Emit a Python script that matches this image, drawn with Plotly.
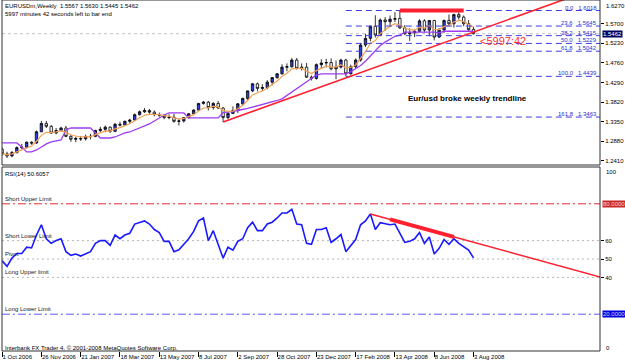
import pandas as pd
import plotly.graph_objects as go

# ---------------- data ----------------
weeks = pd.date_range("2006-10-01", periods=97, freq="7D")

opens = [1.2690, 1.2580, 1.2530, 1.2610, 1.2730, 1.2740, 1.2860, 1.2840, 1.3110, 1.3310,
         1.3240, 1.3080, 1.3140, 1.3200, 1.3000, 1.2930, 1.2950, 1.2940, 1.2990, 1.3000,
         1.3140, 1.3170, 1.3220, 1.3120, 1.3290, 1.3270, 1.3360, 1.3390, 1.3520, 1.3590,
         1.3620, 1.3580, 1.3520, 1.3510, 1.3450, 1.3460, 1.3360, 1.3370, 1.3450, 1.3540,
         1.3630, 1.3790, 1.3820, 1.3690, 1.3790, 1.3680, 1.3450, 1.3550, 1.3620, 1.3780,
         1.3910, 1.4090, 1.4260, 1.4150, 1.4170, 1.4300, 1.4410, 1.4500, 1.4660, 1.4670,
         1.4830, 1.4630, 1.4660, 1.4420, 1.4390, 1.4720, 1.4760, 1.4770, 1.4620, 1.4660,
         1.4830, 1.4500, 1.4670, 1.4830, 1.5190, 1.5350, 1.5640, 1.5430, 1.5790, 1.5750,
         1.5810, 1.5830, 1.5600, 1.5460, 1.5480, 1.5520, 1.5770, 1.5550, 1.5780, 1.5380,
         1.5550, 1.5780, 1.5700, 1.5920, 1.5860, 1.5700, 1.5567]
highs = [1.2730, 1.2630, 1.2650, 1.2760, 1.2820, 1.2880, 1.2880, 1.3140, 1.3370, 1.3370,
         1.3270, 1.3200, 1.3230, 1.3250, 1.3030, 1.2990, 1.3010, 1.3040, 1.3060, 1.3160,
         1.3230, 1.3260, 1.3240, 1.3320, 1.3350, 1.3380, 1.3420, 1.3550, 1.3620, 1.3680,
         1.3660, 1.3620, 1.3570, 1.3520, 1.3530, 1.3540, 1.3410, 1.3460, 1.3560, 1.3650,
         1.3800, 1.3850, 1.3850, 1.3820, 1.3850, 1.3700, 1.3580, 1.3720, 1.3800, 1.3930,
         1.4100, 1.4280, 1.4290, 1.4250, 1.4350, 1.4420, 1.4520, 1.4730, 1.4750, 1.4880,
         1.4880, 1.4750, 1.4760, 1.4460, 1.4750, 1.4850, 1.4860, 1.4870, 1.4820, 1.4860,
         1.4860, 1.4720, 1.4870, 1.5240, 1.5460, 1.5660, 1.5904, 1.5830, 1.5860, 1.5900,
         1.5980, 1.6018, 1.5670, 1.5590, 1.5560, 1.5810, 1.5810, 1.5790, 1.5790, 1.5600,
         1.5800, 1.5920, 1.5940, 1.6018, 1.5900, 1.5790, 1.5630]
lows = [1.2540, 1.2480, 1.2500, 1.2590, 1.2690, 1.2710, 1.2800, 1.2820, 1.3100, 1.3200,
        1.3060, 1.3050, 1.3110, 1.2980, 1.2870, 1.2860, 1.2890, 1.2900, 1.2930, 1.2980,
        1.3100, 1.3100, 1.3080, 1.3100, 1.3240, 1.3250, 1.3310, 1.3370, 1.3500, 1.3560,
        1.3540, 1.3480, 1.3470, 1.3410, 1.3410, 1.3330, 1.3260, 1.3330, 1.3420, 1.3520,
        1.3610, 1.3760, 1.3620, 1.3640, 1.3660, 1.3345, 1.3410, 1.3540, 1.3560, 1.3740,
        1.3870, 1.4060, 1.4080, 1.4090, 1.4130, 1.4220, 1.4380, 1.4480, 1.4560, 1.4650,
        1.4600, 1.4580, 1.4400, 1.4340, 1.4360, 1.4640, 1.4650, 1.4580, 1.4370, 1.4630,
        1.4440, 1.4480, 1.4640, 1.4790, 1.5140, 1.5280, 1.5370, 1.5420, 1.5530, 1.5630,
        1.5740, 1.5580, 1.5430, 1.5290, 1.5380, 1.5500, 1.5490, 1.5400, 1.5300, 1.5360,
        1.5480, 1.5660, 1.5610, 1.5800, 1.5640, 1.5520, 1.5445]
closes = [1.2580, 1.2530, 1.2610, 1.2730, 1.2740, 1.2860, 1.2840, 1.3110, 1.3310, 1.3240,
          1.3080, 1.3140, 1.3200, 1.3000, 1.2930, 1.2950, 1.2940, 1.2990, 1.3000, 1.3140,
          1.3170, 1.3220, 1.3120, 1.3290, 1.3270, 1.3360, 1.3390, 1.3520, 1.3590, 1.3620,
          1.3580, 1.3520, 1.3510, 1.3450, 1.3460, 1.3360, 1.3370, 1.3450, 1.3540, 1.3630,
          1.3790, 1.3820, 1.3690, 1.3790, 1.3680, 1.3450, 1.3550, 1.3620, 1.3780, 1.3910,
          1.4090, 1.4260, 1.4150, 1.4170, 1.4300, 1.4410, 1.4500, 1.4660, 1.4670, 1.4830,
          1.4630, 1.4660, 1.4420, 1.4390, 1.4720, 1.4760, 1.4770, 1.4620, 1.4660, 1.4830,
          1.4500, 1.4670, 1.4830, 1.5190, 1.5350, 1.5640, 1.5430, 1.5790, 1.5750, 1.5810,
          1.5820, 1.5600, 1.5460, 1.5480, 1.5520, 1.5770, 1.5550, 1.5780, 1.5380, 1.5550,
          1.5780, 1.5700, 1.5920, 1.5860, 1.5700, 1.5560, 1.5462]

purple_ma = [1.2842, 1.2842, 1.2842, 1.2842, 1.2746, 1.2626, 1.2626, 1.2674, 1.2746, 1.2818,
             1.2866, 1.2890, 1.2914, 1.3153, 1.3201, 1.3201, 1.3201, 1.3201, 1.3201, 1.3081,
             1.2961, 1.2961, 1.2961, 1.2985, 1.3033, 1.3081, 1.3105, 1.3153, 1.3201, 1.3249,
             1.3297, 1.3369, 1.3441, 1.3513, 1.3561, 1.3561, 1.3561, 1.3561, 1.3441, 1.3441,
             1.3441, 1.3441, 1.3441, 1.3441, 1.3441, 1.3570, 1.3580, 1.3600, 1.3620, 1.3640,
             1.3670, 1.3700, 1.3730, 1.3760, 1.3790, 1.3820, 1.3860, 1.3900, 1.3980, 1.4060,
             1.4140, 1.4220, 1.4300, 1.4400, 1.4470, 1.4500, 1.4500, 1.4500, 1.4500, 1.4500,
             1.4500, 1.4550, 1.4620, 1.4700, 1.4800, 1.4920, 1.5050, 1.5180, 1.5260, 1.5340,
             1.5400, 1.5430, 1.5500, 1.5500, 1.5500, 1.5500, 1.5500, 1.5500, 1.5500, 1.5480,
             1.5520, 1.5520, 1.5520, 1.5520, 1.5520, 1.5520, 1.5520]

rsi = [49, 46, 50.5, 53, 53, 56.4, 56, 63, 68.6, 61,
       58.5, 60, 61, 54, 52, 52.7, 51.6, 52.7, 54, 58.5,
       60, 60, 57.4, 63, 61, 63, 64, 69, 70, 70.7,
       69, 66, 64.4, 59.6, 59.6, 54, 55, 58, 61, 65,
       70.7, 72.3, 60, 65.4, 58.5, 50.5, 56.4, 54.8, 59.6, 61,
       67, 70, 65.4, 65.4, 69, 70, 72.3, 75, 75, 77,
       69, 68.6, 58.5, 58, 66, 66, 67, 59, 61, 63.3,
       54, 57.4, 60.6, 68.6, 70.7, 74.5, 66, 69.7, 69, 68.6,
       69, 64, 59, 59.6, 61, 64.4, 58.5, 62, 52.7, 55.8,
       60.6, 58, 61, 58.5, 56.5, 54.8, 50.6057]

# drawn objects
price_trend_dates = ["2007-08-12", "2009-02-01"]
price_trend_vals = [1.3345, 1.6600]
resist_dates = ["2008-04-20", "2008-07-20"]
resist_vals = [1.6018, 1.6018]
fib_levels = ["0.0", "23.6", "38.2", "50.0", "61.8", "100.0", "161.8"]
fib_prices = [1.6018, 1.5645, 1.5415, 1.5229, 1.5042, 1.4439, 1.3463]
fib_dates = ["2008-02-03", "2009-02-08"]
rsi_trend_dates = ["2008-03-09", "2009-02-01"]
rsi_trend_vals = [74.5, 40.0]
rsi_thick_dates = ["2008-04-06", "2008-07-06"]
rsi_thick_vals = [71.56, 62.0]
rsi_levels = [80, 60, 50, 40, 20]
rsi_level_names = ["Short Upper Limit", "Short Lower Limit", "Pivot", "Long Upper limit", "Long Lower Limit"]
price_ticks = [1.5700, 1.5230, 1.4760, 1.4290, 1.3820, 1.3350, 1.2880, 1.2410]
date_ticks = list(weeks[::8])
date_labels = ["1 Oct 2006", "26 Nov 2006", "21 Jan 2007", "18 Mar 2007", "13 May 2007", "8 Jul 2007",
               "2 Sep 2007", "28 Oct 2007", "23 Dec 2007", "17 Feb 2008", "13 Apr 2008", "8 Jun 2008",
               "3 Aug 2008"]
bid = 1.5462

# ---------------- layout geometry ----------------
W, H = 625, 363
ML, MR, MT, MB = 2, 25, 0, 12
PW = W - ML - MR
PH = H - MT - MB


def fx(px):
    return (px - ML) / PW


def fy(py):
    return (H - MB - py) / PH


price_dom = [fy(165), 1.0]
rsi_dom = [0.0, fy(167)]
x_range = [pd.Timestamp("2006-09-30 20:00"), pd.Timestamp("2009-01-30 07:00")]
FONT = "Liberation Sans"

orange_ma = pd.Series(closes).ewm(span=5, adjust=False).mean().tolist()

fig = go.Figure()

# ---- price pane ----
fig.add_trace(go.Scatter(x=weeks, y=purple_ma, mode="lines", line=dict(color="#9b3cf0", width=1.3),
                         xaxis="x", yaxis="y", hoverinfo="skip"))
fig.add_trace(go.Scatter(x=weeks, y=orange_ma, mode="lines", line=dict(color="#f0a055", width=1.2),
                         xaxis="x", yaxis="y", hoverinfo="skip"))
fig.add_trace(go.Candlestick(x=weeks, open=opens, high=highs, low=lows, close=closes,
                             increasing=dict(fillcolor="#2f3fd8", line=dict(color="#000000", width=0.8)),
                             decreasing=dict(fillcolor="#ffffff", line=dict(color="#000000", width=0.8)),
                             whiskerwidth=0, xaxis="x", yaxis="y"))

fx_x, fx_y = [], []
for p in fib_prices:
    fx_x += fib_dates + [None]
    fx_y += [p, p, None]
fig.add_trace(go.Scatter(x=fx_x, y=fx_y, mode="lines", line=dict(color="#3f3fe0", width=1, dash="6px,4px"),
                         xaxis="x", yaxis="y", hoverinfo="skip"))
fig.add_trace(go.Scatter(x=price_trend_dates, y=price_trend_vals, mode="lines",
                         line=dict(color="#ff2030", width=1.6), xaxis="x", yaxis="y"))
fig.add_trace(go.Scatter(x=resist_dates, y=resist_vals, mode="lines",
                         line=dict(color="#ff2030", width=4), xaxis="x", yaxis="y"))

# ---- RSI pane ----
fig.add_trace(go.Scatter(x=weeks, y=rsi, mode="lines", line=dict(color="#1a1aff", width=1.6),
                         xaxis="x2", yaxis="y2"))
fig.add_trace(go.Scatter(x=rsi_trend_dates, y=rsi_trend_vals, mode="lines",
                         line=dict(color="#ff2030", width=1.5), xaxis="x2", yaxis="y2"))
fig.add_trace(go.Scatter(x=rsi_thick_dates, y=rsi_thick_vals, mode="lines",
                         line=dict(color="#ff2030", width=4), xaxis="x2", yaxis="y2"))

shapes = []
# bid line
shapes.append(dict(type="line", xref="paper", yref="y", x0=0, x1=1, y0=bid, y1=bid,
                   line=dict(color="#c0c0c0", width=1, dash="3px,3px"), layer="below"))
level_styles = {80: ("#e03030", "8px,3px,2px,3px"), 60: ("#b8b8b8", "2px,3px"), 50: ("#b8b8b8", "2px,3px"),
                40: ("#b8b8b8", "2px,3px"), 20: ("#5a5aff", "8px,3px,2px,3px")}
for lv in rsi_levels:
    c, d = level_styles[lv]
    shapes.append(dict(type="line", xref="paper", yref="y2", x0=0, x1=1, y0=lv, y1=lv,
                       line=dict(color=c, width=1, dash=d), layer="below"))
# pane frames
shapes.append(dict(type="rect", xref="paper", yref="paper", x0=0, x1=1, y0=price_dom[0], y1=price_dom[1],
                   line=dict(color="#303030", width=1)))
shapes.append(dict(type="rect", xref="paper", yref="paper", x0=0, x1=1, y0=rsi_dom[0], y1=rsi_dom[1],
                   line=dict(color="#303030", width=1)))

small = dict(family=FONT, size=6, color="#000000")
ann = []
ann.append(dict(x=fx(3), y=fy(1), xref="paper", yref="paper", xanchor="left", yanchor="top", showarrow=False,
                text="EURUSDm,Weekly\u00a0\u00a01.5567 1.5630 1.5445 1.5462", font=small))
ann.append(dict(x=fx(3), y=fy(9), xref="paper", yref="paper", xanchor="left", yanchor="top", showarrow=False,
                text="5997 minutes 42 seconds left to bar end", font=small))
ann.append(dict(x=fx(478), y=fy(41), xref="paper", yref="paper", xanchor="left", yanchor="middle",
                showarrow=False, text="&lt;5997:42", font=dict(family=FONT, size=11, color="#ff3030")))
ann.append(dict(x=fx(467), y=fy(98), xref="paper", yref="paper", xanchor="center", yanchor="middle",
                showarrow=False, text="<b>Eur/usd broke weekly trendline</b>",
                font=dict(family=FONT, size=8, color="#000000")))
for lvl, p in zip(fib_levels, fib_prices):
    ann.append(dict(x=1.0, y=p, xref="paper", yref="y", xanchor="right", yanchor="bottom", showarrow=False,
                    text=f"{lvl}\u00a0\u00a0\u00a0{p:.4f}", font=dict(family=FONT, size=6, color="#3030c8"),
                    xshift=-1, yshift=-2))
ann.append(dict(x=1.0, y=1.6270, xref="paper", yref="y", xanchor="left", yanchor="top", showarrow=False,
                text="1.6270", font=small, xshift=4, yshift=-1))
ann.append(dict(x=1.0, y=bid, xref="paper", yref="y", xanchor="left", yanchor="middle", showarrow=False,
                text=f"{bid:.4f}", font=dict(family=FONT, size=6, color="#ffffff"), bgcolor="#000060",
                borderpad=0, xshift=2))
ann.append(dict(x=1.0, y=80, xref="paper", yref="y2", xanchor="left", yanchor="middle", showarrow=False,
                text="80.0000", font=dict(family=FONT, size=6, color="#ffd0d0"), bgcolor="#c82828",
                borderpad=0, xshift=2))
ann.append(dict(x=1.0, y=20, xref="paper", yref="y2", xanchor="left", yanchor="middle", showarrow=False,
                text="20.0000", font=dict(family=FONT, size=6, color="#d0d0ff"), bgcolor="#0000e0",
                borderpad=0, xshift=2))
ann.append(dict(x=1.0, y=100, xref="paper", yref="y2", xanchor="left", yanchor="top", showarrow=False,
                text="100", font=small, xshift=4))
ann.append(dict(x=1.0, y=0, xref="paper", yref="y2", xanchor="left", yanchor="bottom", showarrow=False,
                text="0", font=small, xshift=4, yshift=-2))
ann.append(dict(x=fx(3), y=fy(169), xref="paper", yref="paper", xanchor="left", yanchor="top",
                showarrow=False, text="RSI(14) 50.6057", font=small))
for lv, name in zip(rsi_levels, rsi_level_names):
    ann.append(dict(x=fx(3), y=lv, xref="paper", yref="y2", xanchor="left", yanchor="bottom",
                    showarrow=False, text=name, font=dict(family=FONT, size=6, color="#202020"), yshift=0))
ann.append(dict(x=fx(3), y=fy(343), xref="paper", yref="paper", xanchor="left", yanchor="top",
                showarrow=False, text="Interbank FX Trader 4, \u00a9 2001-2008 MetaQuotes Software Corp.",
                font=small))

fig.update_layout(
    width=W, height=H, margin=dict(l=ML, r=MR, t=MT, b=MB),
    paper_bgcolor="#ffffff", plot_bgcolor="#ffffff", showlegend=False,
    font=dict(family=FONT, size=6, color="#000000"),
    xaxis=dict(type="date", range=x_range, domain=[0, 1], anchor="y", matches="x2", showticklabels=False,
               showgrid=False, zeroline=False, ticks="", rangeslider=dict(visible=False), fixedrange=True),
    yaxis=dict(domain=price_dom, range=[1.6270 - 165 / 417.0, 1.6270], side="right", anchor="x",
               tickvals=price_ticks, ticktext=[f"{v:.4f}" for v in price_ticks], ticks="outside", ticklen=3,
               tickcolor="#000000", tickfont=small, showgrid=False, zeroline=False),
    xaxis2=dict(type="date", range=x_range, domain=[0, 1], anchor="y2", tickvals=date_ticks, ticktext=date_labels,
                ticks="outside", ticklen=5, tickcolor="#000000", ticklabelposition="outside right",
                tickangle=0, tickfont=small, showgrid=False, zeroline=False),
    yaxis2=dict(domain=rsi_dom, range=[0, 100], side="right", anchor="x2", tickvals=[60, 50, 40],
                ticktext=["60", "50", "40"], ticks="outside", ticklen=3, tickcolor="#000000", tickfont=small,
                showgrid=False, zeroline=False),
    shapes=shapes, annotations=ann,
)

fig.write_html("out.html")
